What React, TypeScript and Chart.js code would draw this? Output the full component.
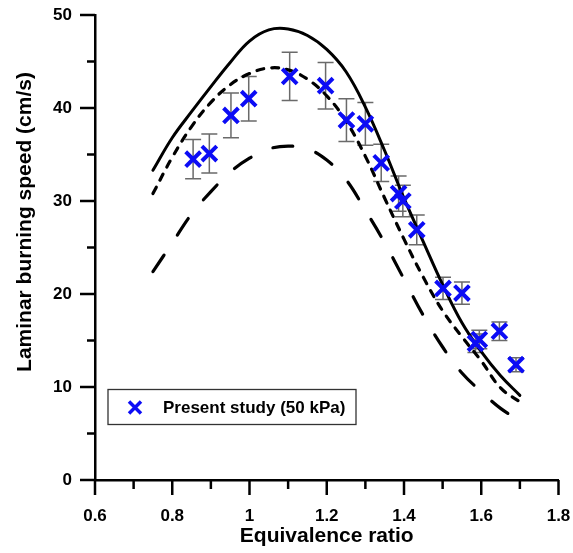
import React, { useEffect, useRef } from "react";
import { Chart, registerables } from "chart.js";

Chart.register(...registerables);

// ---- data ----
const phiModel = [0.75, 0.8, 0.85, 0.9, 0.95, 1.0, 1.05, 1.1, 1.15, 1.2, 1.25, 1.3, 1.35, 1.4, 1.45, 1.5, 1.55, 1.6, 1.65, 1.7];
const suSolid = [33.3, 36.8, 39.6, 42.3, 44.9, 47.2, 48.4, 48.5, 47.8, 46.3, 43.9, 40.1, 35.4, 30.3, 25.6, 21.0, 16.9, 13.8, 11.2, 9.1];
const suShortDash = [30.8, 34.7, 38.0, 40.6, 42.5, 43.7, 44.3, 44.1, 43.1, 41.3, 38.6, 34.8, 30.3, 25.9, 21.8, 18.2, 15.4, 12.8, 9.9, 8.4];
const suLongDash = [22.4, 25.5, 28.6, 31.0, 33.1, 34.6, 35.6, 35.9, 35.6, 34.4, 32.3, 29.0, 25.5, 21.6, 17.7, 14.3, 11.5, 9.5, 7.7, 6.4];

const phiExp = [0.854, 0.896, 0.952, 0.998, 1.104, 1.197, 1.251, 1.3, 1.341, 1.386, 1.397, 1.433, 1.501, 1.55, 1.585, 1.595, 1.647, 1.69];
const suExp = [34.5, 35.1, 39.2, 41.0, 43.4, 42.4, 38.7, 38.3, 34.1, 30.8, 30.0, 26.9, 20.6, 20.1, 14.7, 15.1, 16.0, 12.4];
const suErr = [2.1, 2.1, 2.4, 2.4, 2.6, 2.5, 2.3, 2.3, 2.0, 1.9, 1.7, 1.6, 1.2, 1.2, 1.0, 1.0, 1.0, 0.75];

const xTickLabels = ["0.6", "0.8", "1", "1.2", "1.4", "1.6", "1.8"];
const yTickLabels = ["0", "10", "20", "30", "40", "50"];
const legendLabel = "Present study (50 kPa)";
const xTitle = "Equivalence ratio";
const yTitle = "Laminar burning speed (cm/s)";

const FONT = "'Liberation Sans', Arial, sans-serif";
const BLUE = "rgb(12,12,245)";

const fmt = (v: number) => String(Number(v.toFixed(1)));

const zeroPad = (s: any) => {
  s.paddingLeft = 0;
  s.paddingRight = 0;
  s.paddingTop = 0;
  s.paddingBottom = 0;
};

const customPlugin = {
  id: "customDecor",
  beforeDatasetsDraw(chart: any) {
    const ctx = chart.ctx;
    const xs = chart.scales.x;
    const ys = chart.scales.y;
    ctx.save();
    ctx.strokeStyle = "#6a6a6a";
    ctx.lineWidth = 1.5;
    for (let i = 0; i < phiExp.length; i++) {
      const px = xs.getPixelForValue(phiExp[i]);
      const top = ys.getPixelForValue(suExp[i] + suErr[i]);
      const bot = ys.getPixelForValue(suExp[i] - suErr[i]);
      ctx.beginPath();
      ctx.moveTo(px, top);
      ctx.lineTo(px, bot);
      ctx.moveTo(px - 8, top);
      ctx.lineTo(px + 8, top);
      ctx.moveTo(px - 8, bot);
      ctx.lineTo(px + 8, bot);
      ctx.stroke();
    }
    ctx.restore();
  },
  afterDraw(chart: any) {
    const ctx = chart.ctx;
    const xs = chart.scales.x;
    const ys = chart.scales.y;
    const area = chart.chartArea;
    ctx.save();
    ctx.strokeStyle = "#000";
    ctx.lineWidth = 2.5;
    xs.ticks.forEach((t: any) => {
      const px = xs.getPixelForValue(t.value);
      const major = xTickLabels.includes(fmt(t.value));
      ctx.beginPath();
      ctx.moveTo(px, area.bottom);
      ctx.lineTo(px, area.bottom + (major ? 15 : 9));
      ctx.stroke();
    });
    ys.ticks.forEach((t: any) => {
      const py = ys.getPixelForValue(t.value);
      const major = yTickLabels.includes(fmt(t.value));
      ctx.beginPath();
      ctx.moveTo(area.left, py);
      ctx.lineTo(area.left - (major ? 15 : 8), py);
      ctx.stroke();
    });

    ctx.fillStyle = "#000";
    ctx.font = `bold 21px ${FONT}`;
    ctx.textAlign = "center";
    ctx.textBaseline = "middle";
    ctx.translate(25, 222);
    ctx.rotate(-Math.PI / 2);
    ctx.fillText(yTitle, 0, 0);
    ctx.restore();

    ctx.save();
    ctx.strokeStyle = "#333";
    ctx.lineWidth = 1.3;
    ctx.strokeRect(108, 389.5, 248, 35);
    ctx.strokeStyle = BLUE;
    ctx.lineWidth = 3.5;
    const cx = 135, cy = 407.5, h = 6;
    ctx.beginPath();
    ctx.moveTo(cx - h, cy - h);
    ctx.lineTo(cx + h, cy + h);
    ctx.moveTo(cx - h, cy + h);
    ctx.lineTo(cx + h, cy - h);
    ctx.stroke();
    ctx.fillStyle = "#000";
    ctx.font = `bold 17px ${FONT}`;
    ctx.textAlign = "left";
    ctx.textBaseline = "middle";
    ctx.fillText(legendLabel, 163, 408);
    ctx.restore();
  },
};

export default function App() {
  const canvasRef = useRef<HTMLCanvasElement | null>(null);

  useEffect(() => {
    document.body.style.margin = "0";
    const canvas = canvasRef.current;
    if (!canvas) return;

    const toPts = (ys: number[], xsArr: number[]) => xsArr.map((x, i) => ({ x, y: ys[i] }));

    const lineBase = {
      type: "line" as const,
      showLine: true,
      borderColor: "#000",
      borderWidth: 3,
      pointRadius: 0,
      fill: false,
      tension: 0.4,
      borderCapStyle: "round" as const,
    };

    const chart = new Chart(canvas, {
      type: "scatter",
      data: {
        datasets: [
          {
            label: legendLabel,
            data: toPts(suExp, phiExp),
            pointStyle: "crossRot",
            pointRadius: 10.5,
            pointBorderWidth: 4,
            pointBorderColor: BLUE,
            pointBackgroundColor: BLUE,
            showLine: false,
          } as any,
          { ...lineBase, label: "solid", data: toPts(suSolid, phiModel) } as any,
          { ...lineBase, label: "short dash", data: toPts(suShortDash, phiModel), borderDash: [7, 8], borderWidth: 3.2 } as any,
          { ...lineBase, label: "long dash", data: toPts(suLongDash, phiModel), borderDash: [20, 24], borderWidth: 3.2 } as any,
        ],
      },
      options: {
        animation: false,
        responsive: false,
        events: [],
        layout: { padding: { left: 0, right: 14, top: 15, bottom: 0 } },
        plugins: {
          legend: { display: false },
          tooltip: { enabled: false },
        },
        scales: {
          x: {
            type: "linear",
            min: 0.6,
            max: 1.8,
            afterFit: (s: any) => {
              s.height = 73;
              zeroPad(s);
            },
            ticks: {
              stepSize: 0.1,
              autoSkip: false,
              maxRotation: 0,
              padding: 26,
              color: "#000",
              font: { family: FONT, size: 17, weight: "bold" },
              callback: (v: any) => {
                const s = fmt(Number(v));
                return xTickLabels.includes(s) ? s : "";
              },
            },
            grid: { display: true, drawOnChartArea: false, drawTicks: false },
            border: { display: true, color: "#000", width: 2.5 },
            title: {
              display: true,
              text: xTitle,
              color: "#000",
              font: { family: FONT, size: 21, weight: "bold" },
              padding: { top: 0, bottom: 4 },
            },
          },
          y: {
            type: "linear",
            min: 0,
            max: 50,
            afterFit: (s: any) => {
              s.width = 95;
              zeroPad(s);
            },
            ticks: {
              stepSize: 5,
              autoSkip: false,
              padding: 23,
              color: "#000",
              font: { family: FONT, size: 17, weight: "bold" },
              callback: (v: any) => {
                const s = fmt(Number(v));
                return yTickLabels.includes(s) ? s : "";
              },
            },
            grid: { display: true, drawOnChartArea: false, drawTicks: false },
            border: { display: true, color: "#000", width: 2.5 },
          },
        },
      } as any,
      plugins: [customPlugin as any],
    });

    return () => {
      chart.destroy();
    };
  }, []);

  return (
    <div style={{ position: "absolute", left: 0, top: 0, width: 573, height: 553, background: "#fff" }}>
      <canvas ref={canvasRef} width={573} height={553} style={{ display: "block", width: 573, height: 553 }} />
    </div>
  );
}
